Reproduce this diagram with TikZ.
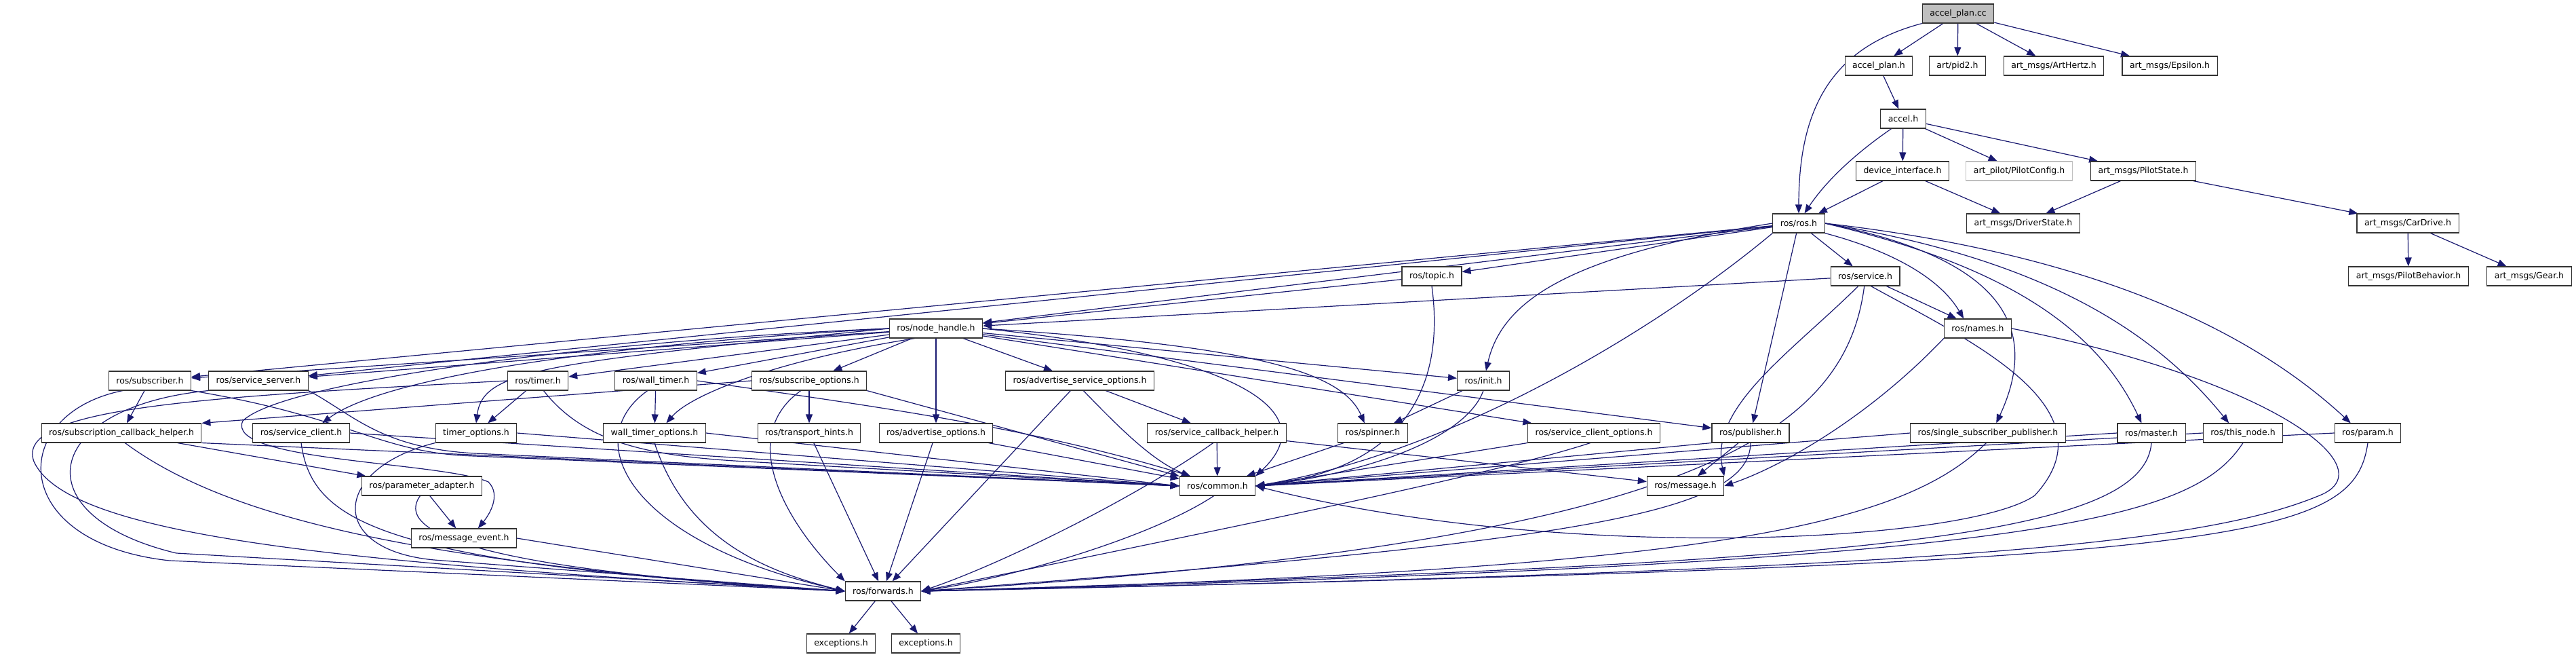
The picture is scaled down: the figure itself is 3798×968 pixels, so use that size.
\documentclass[tikz,border=0pt]{standalone}
\usepackage{fontspec}
\setmainfont{DejaVu Sans}
\usetikzlibrary{arrows.meta}
\definecolor{edgec}{HTML}{191970}
\definecolor{boxc}{HTML}{333333}
\definecolor{greyfill}{HTML}{BFBFBF}
\definecolor{greyline}{HTML}{BFBFBF}
\newcommand\dgfont{\fontsize{6.25pt}{7pt}\selectfont}
\pgfdeclarelayer{edges}
\pgfsetlayers{edges,main}
\tikzset{
  box/.style={draw=boxc, fill=white, line width=0.55pt, minimum height=14pt,
    inner xsep=5.5pt, inner ysep=0pt, font=\dgfont},
  e/.style={draw=edgec, line width=0.6pt, -{Triangle[length=6.5pt,width=5pt]}},
}
\begin{document}
\begin{tikzpicture}[x=0.5pt,y=-0.5pt]
\useasboundingbox (0,0) rectangle (3798,968);
% nodes
\node[box,fill=greyfill] (cc) at (2887,20) {accel\_plan.cc};
\node[box] (aph) at (2770,97) {accel\_plan.h};
\node[box] (pid) at (2886,97) {art/pid2.h};
\node[box] (hz) at (3028,97) {art\_msgs/ArtHertz.h};
\node[box] (eps) at (3199,97) {art\_msgs/Epsilon.h};
\node[box] (acc) at (2806,175) {accel.h};
\node[box] (dev) at (2805,252) {device\_interface.h};
\node[box,draw=greyline] (pcfg) at (2977,252) {art\_pilot/PilotConfig.h};
\node[box] (pst) at (3160,252) {art\_msgs/PilotState.h};
\node[box] (ros) at (2652,329) {ros/ros.h};
\node[box] (drv) at (2983,329) {art\_msgs/DriverState.h};
\node[box] (car) at (3550,329) {art\_msgs/CarDrive.h};
\node[box] (topic) at (2111,407) {ros/topic.h};
\node[box] (srv) at (2750,407) {ros/service.h};
\node[box] (pb) at (3551,407) {art\_msgs/PilotBehavior.h};
\node[box] (gear) at (3729,407) {art\_msgs/Gear.h};
\node[box] (nh) at (1380,484) {ros/node\_handle.h};
\node[box] (names) at (2916,484) {ros/names.h};
\node[box] (sub) at (221,561) {ros/subscriber.h};
\node[box] (ssrv) at (381,561) {ros/service\_server.h};
\node[box] (tim) at (793,561) {ros/timer.h};
\node[box] (wtim) at (967,561) {ros/wall\_timer.h};
\node[box] (subo) at (1193,561) {ros/subscribe\_options.h};
\node[box] (aso) at (1592,561) {ros/advertise\_service\_options.h};
\node[box] (init) at (2187,561) {ros/init.h};
\node[box] (sch) at (179,638) {ros/subscription\_callback\_helper.h};
\node[box] (scl) at (444,638) {ros/service\_client.h};
\node[box] (tmo) at (702,638) {timer\_options.h};
\node[box] (wtmo) at (965,638) {wall\_timer\_options.h};
\node[box] (th) at (1193,638) {ros/transport\_hints.h};
\node[box] (ao) at (1380,638) {ros/advertise\_options.h};
\node[box] (sbh) at (1794,638) {ros/service\_callback\_helper.h};
\node[box] (spin) at (2024,638) {ros/spinner.h};
\node[box] (sco) at (2350,638) {ros/service\_client\_options.h};
\node[box] (pub) at (2581,638) {ros/publisher.h};
\node[box] (ssp) at (2931,638) {ros/single\_subscriber\_publisher.h};
\node[box] (mast) at (3172,638) {ros/master.h};
\node[box] (tn) at (3307,638) {ros/this\_node.h};
\node[box] (param) at (3491,638) {ros/param.h};
\node[box] (pa) at (622,716) {ros/parameter\_adapter.h};
\node[box] (com) at (1795,716) {ros/common.h};
\node[box] (msg) at (2485,716) {ros/message.h};
\node[box] (me) at (684,793) {ros/message\_event.h};
\node[box] (fwd) at (1302,871) {ros/forwards.h};
\node[box] (ex1) at (1240,948) {exceptions.h};
\node[box] (ex2) at (1365,948) {exceptions.h};
% edges
\begin{pgfonlayer}{edges}
\draw[e] (cc.south west) .. controls (2700,70) and (2652,160) .. (ros.north);
\draw[e] (cc) -- (aph);
\draw[e] (cc) -- (pid);
\draw[e] (cc) -- (hz);
\draw[e] (cc) -- (eps);
\draw[e] (aph) -- (acc);
\draw[e] (acc.220) .. controls (2730,230) and (2690,270) .. (ros.60);
\draw[e] (acc) -- (dev);
\draw[e] (acc) -- (pcfg);
\draw[e] (acc) -- (pst);
\draw[e] (dev) -- (ros);
\draw[e] (dev) -- (drv);
\draw[e] (pst) -- (drv);
\draw[e] (pst) -- (car);
\draw[e] (car) -- (pb);
\draw[e] (car) -- (gear);
% ros/ros.h
\draw[e] (ros) -- (topic);
\draw[e] (ros) -- (nh);
\draw[e] (ros) -- (sub);
\draw[e] (ros) -- (ssrv);
\draw[e] (ros.west) .. controls (2320,375) and (2215,440) .. (init.75);
\draw[e] (ros.south west) .. controls (2450,480) and (2150,665) .. (com.east);
\draw[e] (ros) -- (pub);
\draw[e] (ros) -- (srv);
\draw[e] (ros.south east) .. controls (2790,370) and (2860,410) .. (names.145);
\draw[e] (ros.east) .. controls (2950,380) and (3010,480) .. (ssp.50);
\draw[e] (ros.east) .. controls (2950,390) and (3090,480) .. (mast.135);
\draw[e] (ros.east) .. controls (3000,380) and (3170,480) .. (tn.145);
\draw[e] (ros.east) .. controls (3050,370) and (3300,470) .. (param.150);
% topic, service, names
\draw[e] (topic) -- (nh);
\draw[e] (topic.south) .. controls (2130,560) and (2080,690) .. (com.east);
\draw[e] (srv) -- (nh);
\draw[e] (srv) -- (names);
\draw[e] (srv.235) .. controls (2640,520) and (2520,600) .. (msg.north east);
\draw[e] (srv.265) .. controls (2720,640) and (2500,800) .. (fwd.east);
\draw[e] (srv.300) .. controls (2900,500) and (3120,600) .. (3000,730) .. controls (2900,800) and (2300,830) .. (com.east);
\draw[e] (names.south west) .. controls (2750,620) and (2620,690) .. (msg.east);
\draw[e] (names.east) .. controls (3350,560) and (3520,690) .. (3420,730) .. controls (3250,800) and (2900,840) .. (fwd.east);
% node_handle
\draw[e] (nh) -- (sub);
\draw[e] (nh) -- (ssrv);
\draw[e] (nh.west) .. controls (850,510) and (560,560) .. (scl.25);
\draw[e] (nh) -- (tim);
\draw[e] (nh) -- (wtim);
\draw[e] (nh) -- (subo);
\draw[e] (nh) -- (aso);
\draw[e] (nh) -- (ao);
\draw[e] (nh.west) .. controls (800,535) and (712,545) .. (tmo.north);
\draw[e] (nh.205) .. controls (1150,530) and (1020,580) .. (wtmo.40);
\draw[e] (nh) -- (init);
\draw[e] (nh.east) .. controls (1860,510) and (1980,550) .. (spin.130);
\draw[e] (nh) -- (sco);
\draw[e] (nh) -- (pub);
\draw[e] (nh.east) .. controls (1800,520) and (1960,600) .. (com.north east);
\draw[e] (nh.west) .. controls (900,500) and (420,560) .. (358,620) .. controls (330,680) and (650,680) .. (720,710) .. controls (740,730) and (720,760) .. (me.35);
% lower left
\draw[e] (sub) -- (sch);
\draw[e] (sub.south east) .. controls (520,615) and (560,668) .. (700,672) -- (com.west);
\draw[e] (sub.200) .. controls (10,610) and (10,800) .. (250,826) -- (fwd.west);
\draw[e] (ssrv.south east) .. controls (520,610) and (560,660) .. (700,668) -- (com.west);
\draw[e] (ssrv.south west) .. controls (60,600) and (30,760) .. (260,815) -- (fwd.west);
\draw[e] (sch.south east) -- (com.west);
\draw[e] (sch.290) .. controls (330,760) and (600,830) .. (fwd.west);
\draw[e] (sch) -- (pa);
\draw[e] (scl.east) -- (com.west);
\draw[e] (scl.south) .. controls (460,770) and (560,830) .. (fwd.west);
\draw[e] (tim) -- (tmo);
\draw[e] (tim.300) .. controls (860,650) and (950,672) .. (1100,680) -- (com.west);
\draw[e] (tim.west) .. controls (300,585) and (20,600) .. (50,680) .. controls (100,790) and (500,830) .. (fwd.west);
\draw[e] (tmo.east) -- (com.west);
\draw[e] (tmo.south west) .. controls (490,690) and (480,810) .. (640,825) -- (fwd.west);
\draw[e] (wtim) -- (wtmo);
\draw[e] (wtim.east) .. controls (1300,600) and (1520,630) .. (com.160);
\draw[e] (wtim.230) .. controls (850,650) and (930,800) .. (fwd.west);
\draw[e] (wtmo.east) -- (com.west);
\draw[e] (wtmo.south) .. controls (1010,790) and (1120,840) .. (fwd.west);
\draw[e] (subo) -- (th);
\draw[e] (subo.west) -- (sch.north east);
\draw[e] (subo.south east) -- (com.north west);
\draw[e] (subo.230) .. controls (1090,640) and (1150,760) .. (fwd.north west);
\draw[e] (th) -- (fwd);
\draw[e] (ao) -- (com);
\draw[e] (ao) -- (fwd);
\draw[e] (aso) -- (sbh);
\draw[e] (aso.290) .. controls (1650,630) and (1700,680) .. (com.160);
\draw[e] (aso) -- (fwd);
\draw[e] (sbh) -- (com);
\draw[e] (sbh.250) .. controls (1680,730) and (1480,830) .. (fwd.east);
\draw[e] (sbh) -- (msg);
\draw[e] (init) -- (spin);
\draw[e] (init.south) .. controls (2160,650) and (2000,700) .. (com.east);
\draw[e] (spin) -- (com);
\draw[e] (sco.south west) -- (com.east);
\draw[e] (sco.250) .. controls (2200,700) and (1800,780) .. (fwd.east);
\draw[e] (pub.south west) -- (com.east);
\draw[e] (pub) -- (msg);
\draw[e] (pub.south) .. controls (2580,760) and (2300,800) .. (fwd.east);
\draw[e] (ssp.west) -- (com.east);
\draw[e] (ssp.260) .. controls (2800,780) and (2500,840) .. (fwd.east);
\draw[e] (mast.west) -- (com.east);
\draw[e] (mast.south) .. controls (3160,800) and (2700,830) .. (fwd.east);
\draw[e] (tn.west) -- (com.east);
\draw[e] (tn.south) .. controls (3230,770) and (3000,830) .. (fwd.east);
\draw[e] (param.west) -- (com.east);
\draw[e] (param.south) .. controls (3470,800) and (3300,830) .. (fwd.east);
\draw[e] (com.250) .. controls (1700,790) and (1500,850) .. (fwd.east);
\draw[e] (me.east) -- (fwd.west);
\draw[e] (pa.260) .. controls (570,800) and (800,845) .. (fwd.west);
\draw[e] (pa) -- (me);
\draw[e] (fwd) -- (ex1);
\draw[e] (fwd) -- (ex2);
\end{pgfonlayer}
\end{tikzpicture}
\end{document}
